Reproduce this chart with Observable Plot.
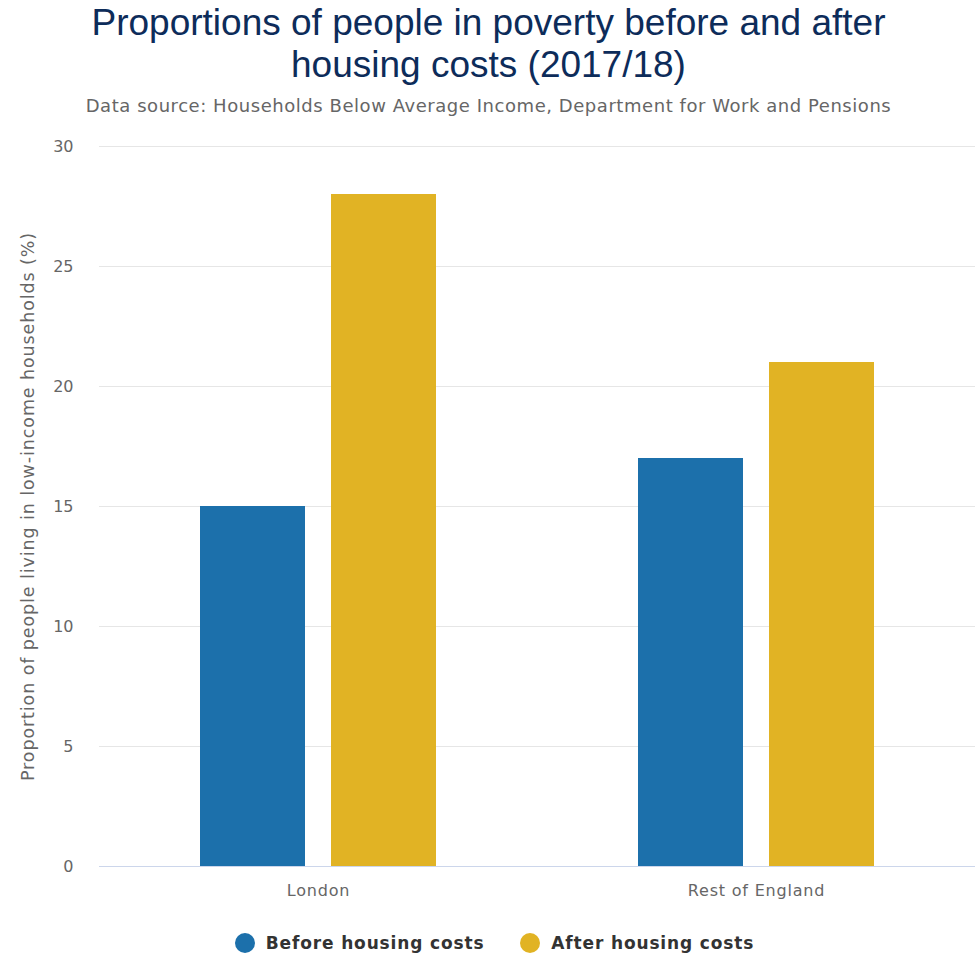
<!DOCTYPE html>
<html>
<head>
<meta charset="utf-8">
<script src="https://cdn.jsdelivr.net/npm/d3@7"></script>
<script src="https://cdn.jsdelivr.net/npm/@observablehq/plot@0.6"></script>
<style>
  html, body { margin: 0; padding: 0; background: #fff; }
  body { width: 977px; font-family: "DejaVu Sans", sans-serif; }
  #header { height: 125px; text-align: center; }
  #title { font-family: "Liberation Sans", Arial, sans-serif; font-size: 37px; line-height: 42px; color: #0d2c5a; width: 850px; margin: 0 auto; padding-top: 2px; }
  #subtitle { font-family: "DejaVu Sans", sans-serif; font-size: 18px; line-height: 22px; color: #666; margin-top: 9px; letter-spacing: 0.55px; }
  #legend { height: 36px; margin-top: 20px; padding-left: 12px; display: flex; justify-content: center; align-items: center; font-family: "DejaVu Sans", sans-serif; font-weight: bold; font-size: 17px; color: #333; letter-spacing: 0.85px; }
  .item { display: flex; align-items: center; margin: 0 18px; }
  .dot { width: 20px; height: 20px; border-radius: 50%; margin-right: 11px; }
</style>
</head>
<body>
<div id="header">
  <div id="title">Proportions of people in poverty before and after housing costs (2017/18)</div>
  <div id="subtitle">Data source: Households Below Average Income, Department for Work and Pensions</div>
</div>
<div id="chart"></div>
<div id="legend"></div>
<script>
const regions = ["London", "Rest of England"];
const measures = ["Before housing costs", "After housing costs"];
const beforeValues = [15, 17];
const afterValues = [28, 21];
const colors = ["#1c70ab", "#e1b324"];
const yTicks = [0, 5, 10, 15, 20, 25, 30];

const rows = [];
regions.forEach((r, i) => {
  rows.push({region: r, measure: measures[0], value: beforeValues[i]});
  rows.push({region: r, measure: measures[1], value: afterValues[i]});
});

const chart = Plot.plot({
  width: 977,
  height: 780,
  marginLeft: 99,
  marginRight: 2,
  marginTop: 21,
  marginBottom: 39,
  style: {fontFamily: "DejaVu Sans, sans-serif", fontSize: "16px", color: "#666"},
  fx: {domain: regions, padding: 0},
  x: {domain: measures, paddingInner: 0.2, paddingOuter: 0.77, axis: null},
  y: {domain: [0, 30]},
  color: {domain: measures, range: colors},
  marks: [
    Plot.gridY(yTicks, {stroke: "#e6e6e6", strokeOpacity: 1, strokeWidth: 1}),
    Plot.barY(rows, {fx: "region", x: "measure", y: "value", fill: "measure"}),
    Plot.ruleY([0], {stroke: "#ccd6eb", strokeWidth: 1}),
    Plot.axisY(yTicks, {tickSize: 0, tickPadding: 26, fontSize: 16, fill: "#666",
      label: "Proportion of people living in low-income households (%)", labelAnchor: "center", labelArrow: "none", labelOffset: 78}),
    Plot.axisFx({anchor: "bottom", tickSize: 0, tickPadding: 18, fontSize: 16, fill: "#666", label: null})
  ]
});
chart.querySelectorAll("g[aria-label='y-axis label']").forEach(el => { el.style.fontSize = "17.5px"; el.style.letterSpacing = "0.9px"; });
chart.querySelectorAll("g[aria-label='fx-axis tick label']").forEach(el => { el.style.letterSpacing = "0.8px"; });
document.getElementById("chart").appendChild(chart);

const legend = document.getElementById("legend");
measures.forEach((m, i) => {
  const item = document.createElement("div");
  item.className = "item";
  const dot = document.createElement("div");
  dot.className = "dot";
  dot.style.background = colors[i];
  const label = document.createElement("span");
  label.textContent = m;
  item.appendChild(dot);
  item.appendChild(label);
  legend.appendChild(item);
});
</script>
</body>
</html>
